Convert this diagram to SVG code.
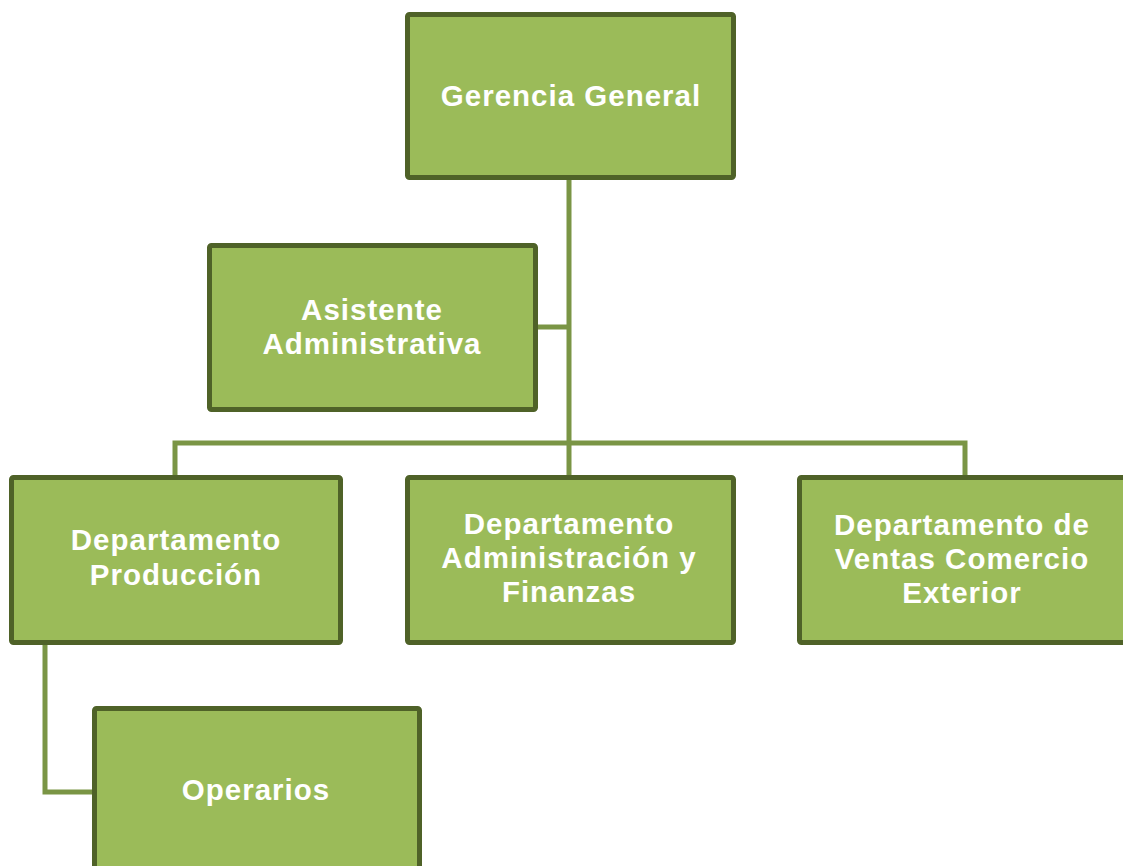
<svg xmlns="http://www.w3.org/2000/svg" width="1123" height="866" viewBox="0 0 1123 866">
<style>
.box{fill:#9bbb59;stroke:#4f6228;stroke-width:5}
.t{font-family:"Liberation Sans",Arial,sans-serif;font-weight:bold;font-size:29.5px;letter-spacing:1px;fill:#ffffff;text-anchor:middle}
.c{fill:none;stroke:#7a9545;stroke-width:5}
</style>
<rect width="1123" height="866" fill="#ffffff"/>
<g id="connectors">
<path class="c" d="M569 180 V445"/>
<path class="c" d="M538 327 H569"/>
<path class="c" d="M175 477 V443 H965 V477"/>
<path class="c" d="M569 443 V477"/>
<path class="c" d="M45 645 V792 H94"/>
</g>
<g id="gerencia">
<rect class="box" x="407.5" y="14.5" width="326" height="163" rx="2"/>
<text class="t" x="571" y="106">Gerencia General</text>
</g>
<g id="asistente">
<rect class="box" x="209.5" y="245.5" width="326" height="164" rx="2"/>
<text class="t" x="372" y="320">Asistente</text>
<text class="t" x="372" y="354">Administrativa</text>
</g>
<g id="produccion">
<rect class="box" x="11.5" y="477.5" width="329" height="165" rx="2"/>
<text class="t" x="176" y="550">Departamento</text>
<text class="t" x="176" y="585">Producción</text>
</g>
<g id="administracion">
<rect class="box" x="407.5" y="477.5" width="326" height="165" rx="2"/>
<text class="t" x="569" y="534">Departamento</text>
<text class="t" x="569" y="568">Administración y</text>
<text class="t" x="569" y="602">Finanzas</text>
</g>
<g id="ventas">
<rect class="box" x="799.5" y="477.5" width="330" height="165" rx="2"/>
<text class="t" x="962" y="535">Departamento de</text>
<text class="t" x="962" y="569">Ventas Comercio</text>
<text class="t" x="962" y="603">Exterior</text>
</g>
<g id="operarios">
<rect class="box" x="94.5" y="708.5" width="325" height="200" rx="2"/>
<text class="t" x="256" y="800">Operarios</text>
</g>
</svg>
